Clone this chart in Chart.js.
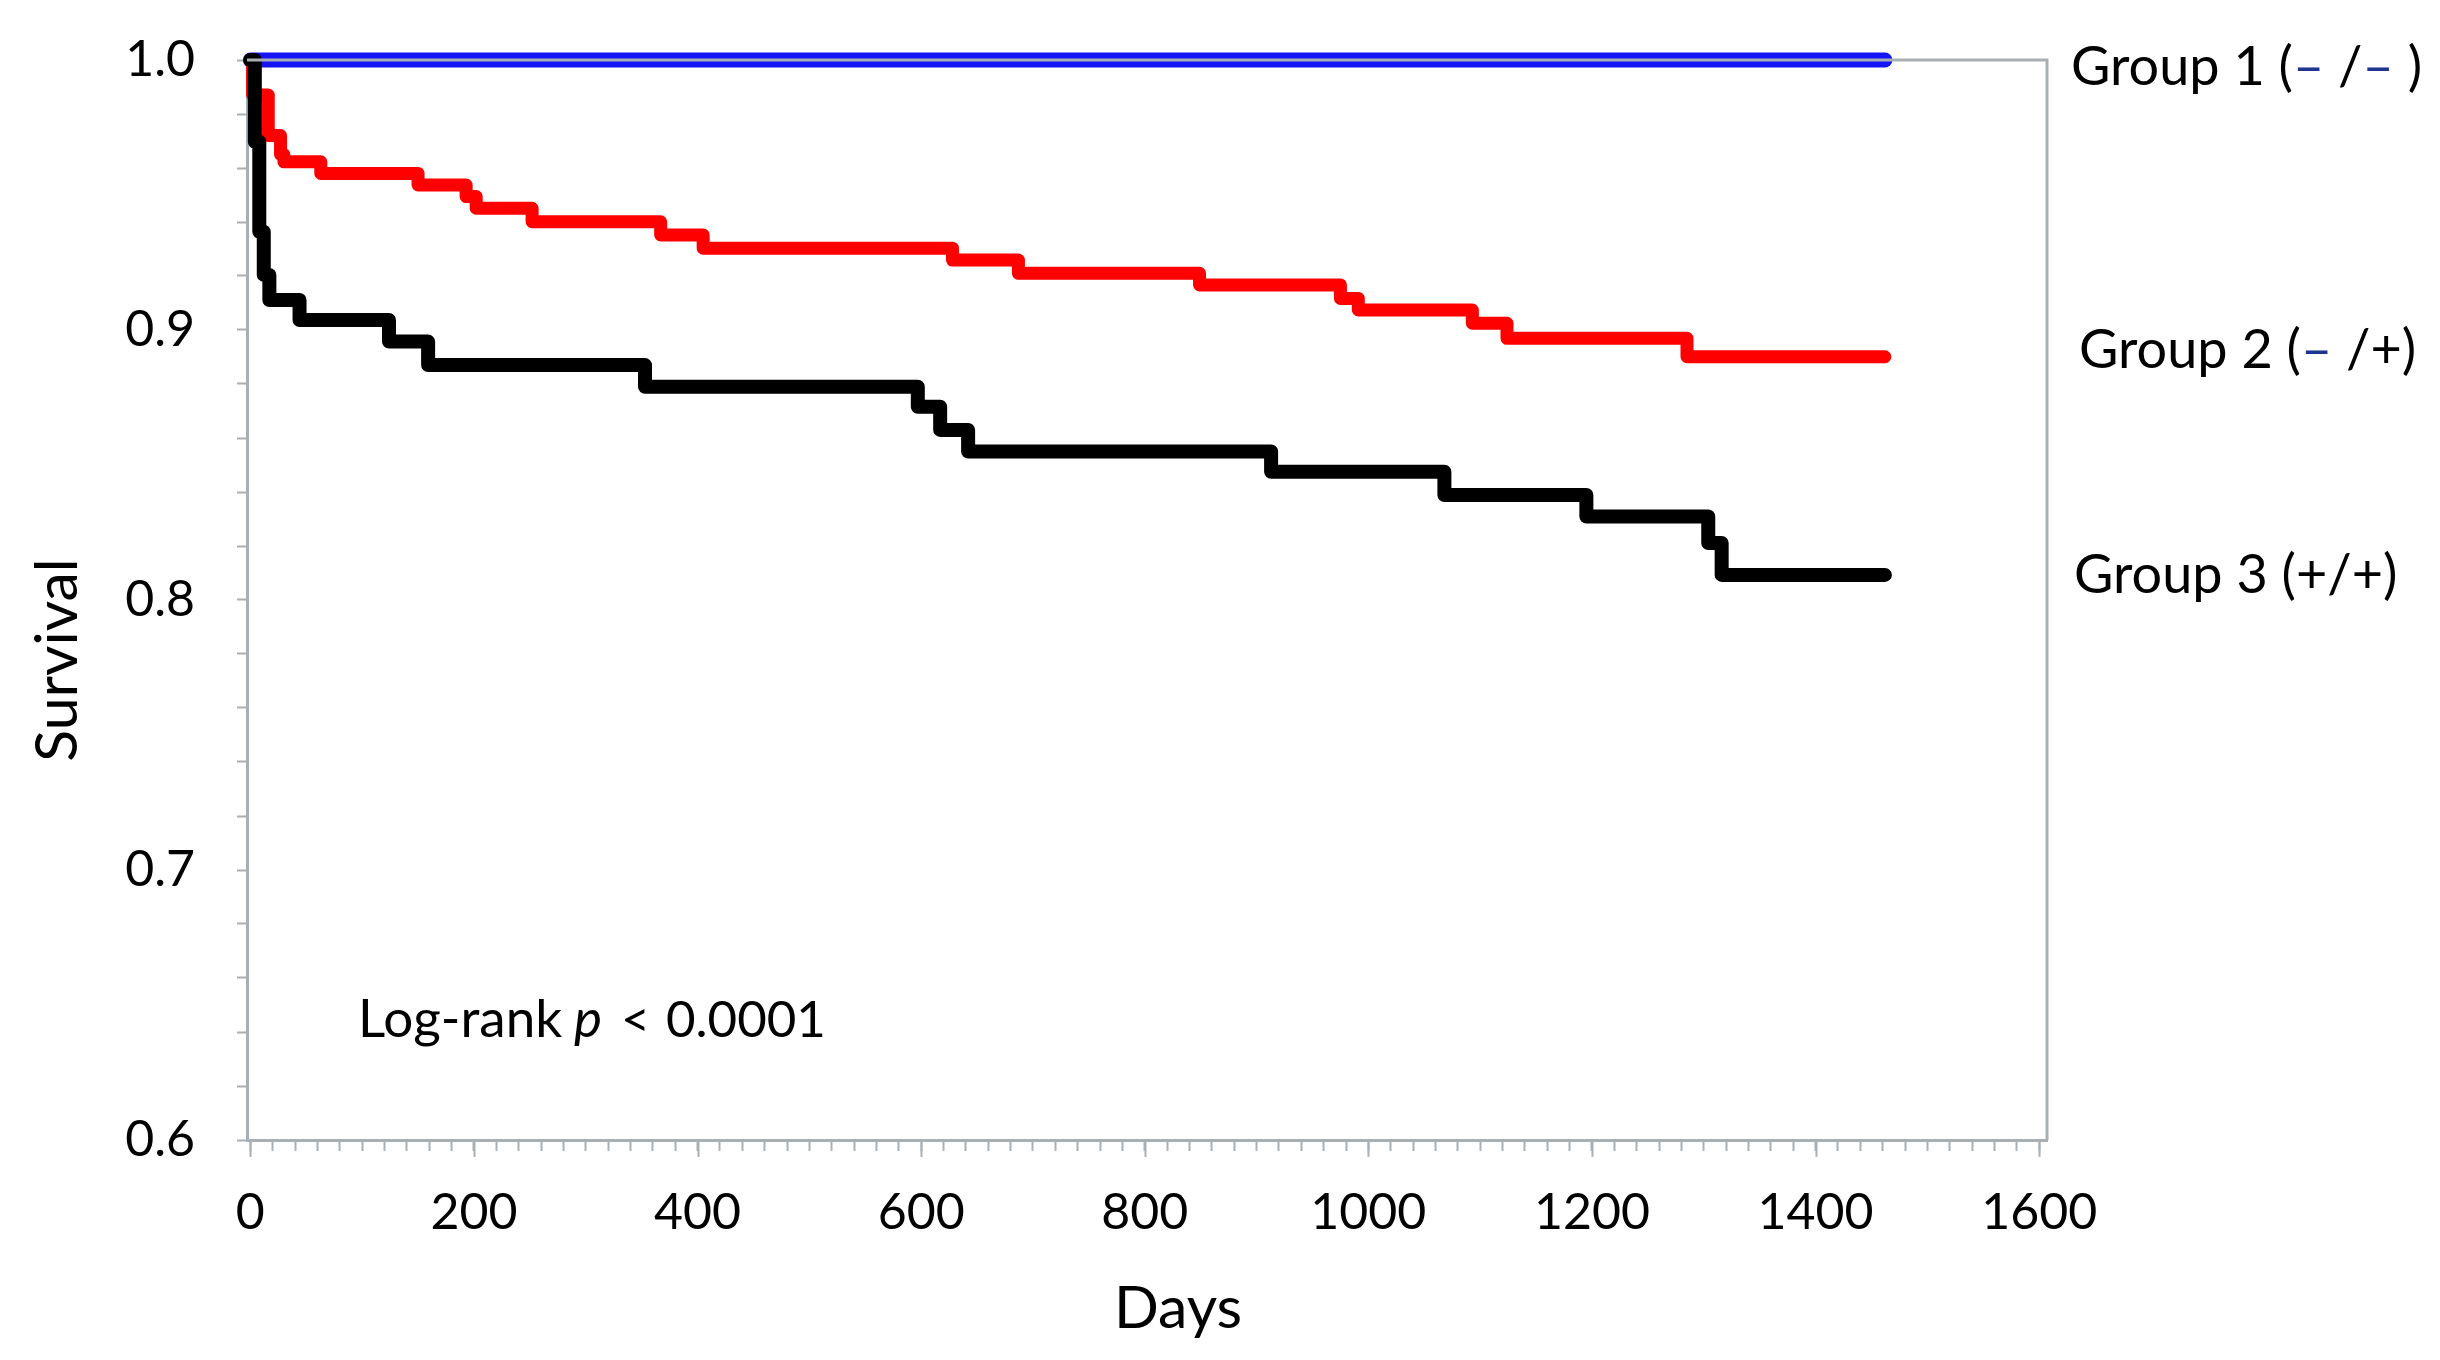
<!DOCTYPE html>
<html>
<head>
<meta charset="utf-8">
<title>Survival by group</title>
<script src="https://cdn.jsdelivr.net/npm/chart.js@4.4.0/dist/chart.umd.min.js"></script>
<style>
  html, body { margin: 0; padding: 0; background: #fff; }
  #wrap { width: 2440px; height: 1360px; }
</style>
</head>
<body>
<div id="wrap"><canvas id="km"></canvas></div>
<script>
// Kaplan-Meier steps: day of each drop, survival after it
const group1Days = [0, 1462];
const group1Surv = [1.0, 1.0];

const group2Days = [0, 2, 16, 27, 30, 63, 150, 193, 202, 252, 367, 405, 628, 687, 849, 975, 991, 1093, 1124, 1285, 1462];
const group2Surv = [1.0, 0.987, 0.972, 0.965, 0.9623, 0.958, 0.9537, 0.9494, 0.9451, 0.9401, 0.9352, 0.9303, 0.9259, 0.921, 0.9167, 0.9117, 0.9074, 0.9025, 0.8969, 0.8901, 0.8901];

const group3Days = [0, 4, 8, 12, 17, 44, 124, 159, 353, 597, 617, 642, 913, 1068, 1195, 1304, 1316, 1462];
const group3Surv = [1.0, 0.9697, 0.9364, 0.9204, 0.9111, 0.9037, 0.8957, 0.887, 0.879, 0.8716, 0.863, 0.855, 0.8475, 0.8389, 0.8309, 0.8211, 0.8093, 0.8093];

const xLabelValues = [0, 200, 400, 600, 800, 1000, 1200, 1400, 1600];
const yLabelValues = [0.6, 0.7, 0.8, 0.9, 1.0];
const xMinorStep = 20;
const yMinorStep = 0.02;

const axisGray = '#a9b0b5';
const dashBlue = '#1f3590';

const xTickValues = [];
for (let v = 0; v <= 1600; v += xMinorStep) xTickValues.push(v);
const yTickValues = [];
for (let k = 0; k <= 20; k++) yTickValues.push(Math.round((0.6 + k * yMinorStep) * 100) / 100);

const toPts = (days, surv) => days.map((d, i) => ({ x: d, y: surv[i] }));

// draws a row of text pieces, each with its own colour / style
function drawPieces(ctx, pieces, x, y) {
  pieces.forEach(p => {
    ctx.font = p.font;
    ctx.fillStyle = p.color;
    const px = p.at !== undefined ? p.at : x;
    ctx.fillText(p.text, px, y);
    x = px + ctx.measureText(p.text).width;
  });
}

const annotations = {
  id: 'annotations',
  afterDatasetsDraw(chart) {
    const { ctx, chartArea: a } = chart;
    ctx.save();
    ctx.strokeStyle = axisGray;
    ctx.lineWidth = 3;
    ctx.beginPath();
    ctx.moveTo(a.left, a.top);
    ctx.lineTo(a.right, a.top);
    ctx.lineTo(a.right, a.bottom);
    ctx.stroke();
    ctx.restore();
  },
  afterDraw(chart) {
    const { ctx, scales } = chart;
    ctx.save();
    // longer marks for labelled x ticks
    ctx.strokeStyle = axisGray;
    ctx.lineWidth = 2;
    xLabelValues.forEach(v => {
      const px = Math.round(scales.x.getPixelForValue(v)) + 0.5;
      ctx.beginPath();
      ctx.moveTo(px, scales.x.top);
      ctx.lineTo(px, scales.x.top + 17);
      ctx.stroke();
    });

    ctx.textBaseline = 'alphabetic';
    ctx.textAlign = 'left';
    const f = '54px Lato';
    drawPieces(ctx, [
      { text: 'Group 1 (', color: '#000', font: f },
      { text: '–', color: dashBlue, font: f },
      { text: ' /', color: '#000', font: f },
      { text: '–', color: dashBlue, font: f },
      { text: ' )', color: '#000', font: f }
    ], 2071, 85);
    drawPieces(ctx, [
      { text: 'Group 2 (', color: '#000', font: f },
      { text: '–', color: dashBlue, font: f },
      { text: ' /+)', color: '#000', font: f }
    ], 2079, 368);
    drawPieces(ctx, [
      { text: 'Group 3 (+/+)', color: '#000', font: f }
    ], 2074, 593);

    drawPieces(ctx, [
      { text: 'Log-rank', color: '#000', font: '53px Lato', at: 358 },
      { text: 'p', color: '#000', font: 'italic 53px Lato', at: 574 },
      { text: '<', color: '#000', font: '50px Lato', at: 621 },
      { text: '0.0001', color: '#000', font: '51px Lato', at: 666 }
    ], 358, 1037);

    ctx.fillStyle = '#000';
    ctx.font = '59px Lato';
    ctx.textAlign = 'center';
    ctx.fillText('Days', 1178, 1328);

    ctx.translate(77, 660);
    ctx.rotate(-Math.PI / 2);
    ctx.fillText('Survival', 0, 0);
    ctx.restore();
  }
};

new Chart(document.getElementById('km'), {
  type: 'line',
  data: {
    datasets: [
      {
        label: 'Group 3 (+/+)',
        data: toPts(group3Days, group3Surv),
        borderColor: '#000000',
        borderWidth: 14,
        order: 1
      },
      {
        label: 'Group 2 (– /+)',
        data: toPts(group2Days, group2Surv),
        borderColor: '#ff0000',
        borderWidth: 13,
        order: 2
      },
      {
        label: 'Group 1 (– /– )',
        data: toPts(group1Days, group1Surv),
        borderColor: '#1414f5',
        borderWidth: 15,
        order: 3
      }
    ]
  },
  options: {
    responsive: true,
    maintainAspectRatio: false,
    devicePixelRatio: 1,
    animation: false,
    layout: { padding: { top: 60, right: 393, bottom: 0, left: 0 } },
    datasets: {
      line: {
        stepped: 'before',
        pointRadius: 0,
        fill: false,
        clip: false,
        borderCapStyle: 'round',
        borderJoinStyle: 'round'
      }
    },
    plugins: {
      legend: { display: false },
      tooltip: { enabled: false }
    },
    scales: {
      x: {
        type: 'linear',
        min: -3,
        max: 1607,
        afterBuildTicks: s => { s.ticks = xTickValues.map(v => ({ value: v })); },
        afterFit: s => { s.height = 220; s.paddingLeft = 0; s.paddingRight = 0; },
        ticks: {
          autoSkip: false,
          maxRotation: 0,
          padding: 32,
          color: '#000',
          font: { family: 'Lato', size: 50 },
          callback: v => xLabelValues.includes(v) ? String(v) : ''
        },
        grid: { drawOnChartArea: false, tickLength: 11, tickColor: axisGray, tickWidth: 2 },
        border: { color: axisGray, width: 3 }
      },
      y: {
        type: 'linear',
        min: 0.6,
        max: 1.0,
        afterBuildTicks: s => { s.ticks = yTickValues.map(v => ({ value: v })); },
        afterFit: s => { s.width = 247; s.paddingTop = 0; s.paddingBottom = 0; },
        ticks: {
          autoSkip: false,
          padding: 42,
          color: '#000',
          font: { family: 'Lato', size: 50 },
          callback: v => yLabelValues.some(l => Math.abs(l - v) < 1e-6) ? v.toFixed(1) : ''
        },
        grid: { drawOnChartArea: false, tickLength: 10, tickColor: axisGray, tickWidth: 2 },
        border: { color: axisGray, width: 3 }
      }
    }
  },
  plugins: [annotations]
});
</script>
</body>
</html>
